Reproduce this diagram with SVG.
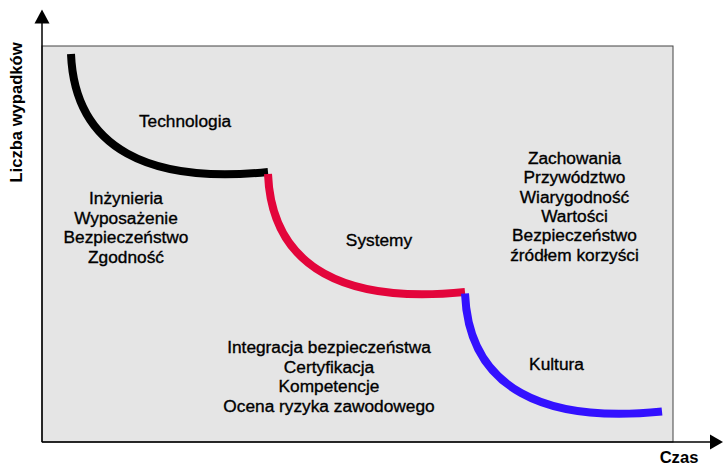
<svg xmlns="http://www.w3.org/2000/svg" width="723" height="467" viewBox="0 0 723 467">
  <style>
    .lbl { font-family: "Liberation Sans", Arial, sans-serif; font-size: 17.3px; fill: #000; stroke: #000; stroke-width: 0.35; text-anchor: middle; }
    .axis-lbl { font-family: "Liberation Sans", Arial, sans-serif; font-size: 16.6px; font-weight: bold; fill: #000; }
    .curve { fill: none; stroke-width: 8; stroke-linecap: butt; }
  </style>
  <defs>
    <!-- one stage of the decline curve, starting at the origin -->
    <path id="stage" d="M0,0 C4,96 80,130 197,118"/>
  </defs>
  <rect width="723" height="467" fill="#ffffff"/>

  <!-- plot area -->
  <rect x="42" y="46" width="631" height="396" fill="#e5e5e5" stroke="#444" stroke-width="1"/>

  <!-- axes -->
  <g id="axes" stroke="#000" stroke-width="1.5" fill="#000">
    <line x1="42" y1="442" x2="42" y2="22"/>
    <polygon points="34.5,23.5 42,9.5 49.5,23.5" stroke="none"/>
    <line x1="42" y1="442" x2="711" y2="442"/>
    <polygon points="710,434.5 723,442 710,449.5" stroke="none"/>
  </g>
  <text class="axis-lbl" transform="translate(22,112.5) rotate(-90)" text-anchor="middle">Liczba wypadków</text>
  <text class="axis-lbl" x="679" y="463" text-anchor="middle">Czas</text>

  <!-- stage curves -->
  <g id="connectors">
    <use href="#stage" class="curve" stroke="#000000" transform="translate(71,54)"/>
    <use href="#stage" class="curve" stroke="#e3053b" transform="translate(268,174)"/>
    <use href="#stage" class="curve" stroke="#3311ff" transform="translate(465,293.5)"/>
  </g>

  <g id="technologia">
    <text class="lbl" x="185" y="127">Technologia</text>
  </g>
  <g id="technologia-items">
    <text class="lbl" x="126" y="204">Inżynieria</text>
    <text class="lbl" x="126" y="223.5">Wyposażenie</text>
    <text class="lbl" x="126" y="243">Bezpieczeństwo</text>
    <text class="lbl" x="126" y="262.5">Zgodność</text>
  </g>
  <g id="systemy">
    <text class="lbl" x="379" y="246">Systemy</text>
  </g>
  <g id="systemy-items">
    <text class="lbl" x="329" y="353">Integracja bezpieczeństwa</text>
    <text class="lbl" x="329" y="372.5">Certyfikacja</text>
    <text class="lbl" x="329" y="392">Kompetencje</text>
    <text class="lbl" x="329" y="411.5">Ocena ryzyka zawodowego</text>
  </g>
  <g id="kultura">
    <text class="lbl" x="556.5" y="370">Kultura</text>
  </g>
  <g id="kultura-items">
    <text class="lbl" x="574.5" y="164">Zachowania</text>
    <text class="lbl" x="574.5" y="183.3">Przywództwo</text>
    <text class="lbl" x="574.5" y="202.6">Wiarygodność</text>
    <text class="lbl" x="574.5" y="221.9">Wartości</text>
    <text class="lbl" x="574.5" y="241.2">Bezpieczeństwo</text>
    <text class="lbl" x="574.5" y="260.5">źródłem korzyści</text>
  </g>
</svg>
